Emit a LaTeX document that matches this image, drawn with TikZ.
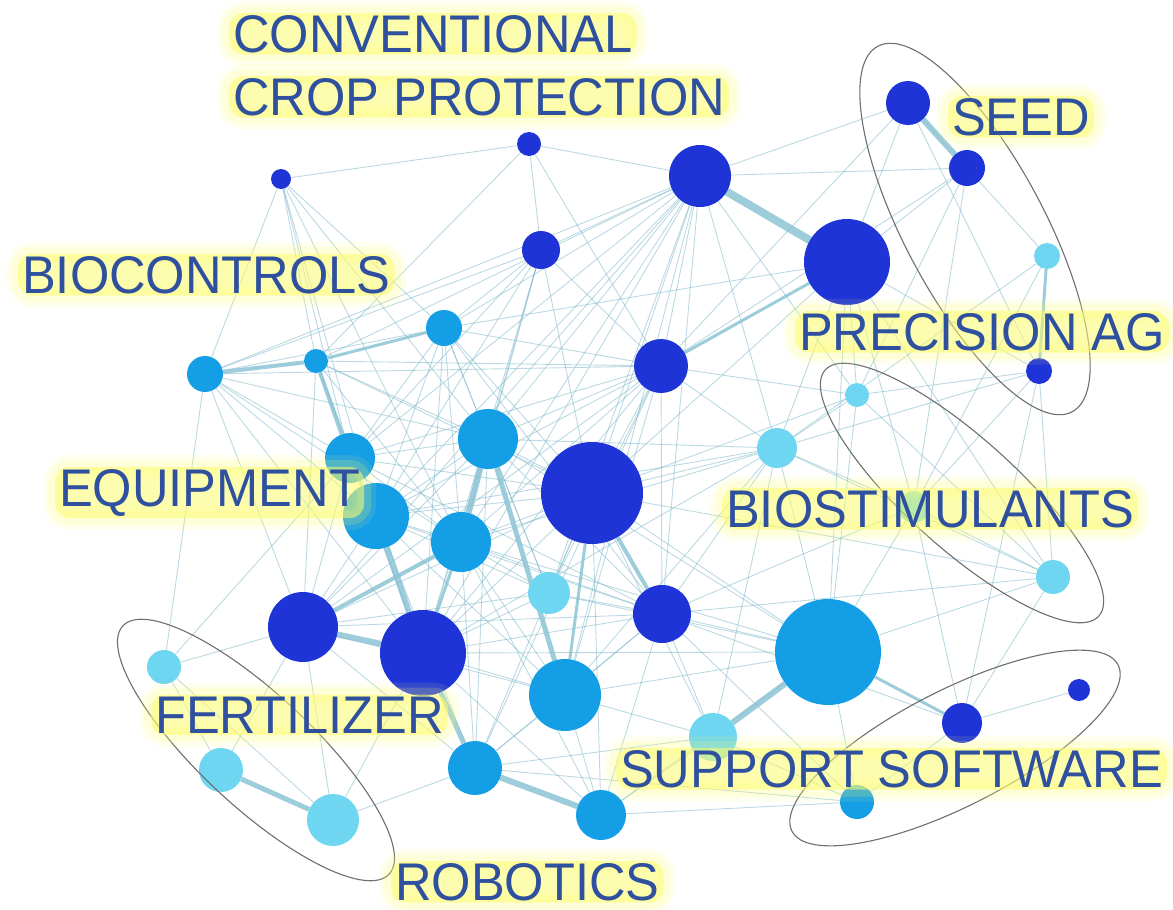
\documentclass[tikz,border=0pt]{standalone}
\usepackage{fontspec}
\newfontfamily\labfont{Liberation Sans}[FakeStretch=0.955]
\usetikzlibrary{backgrounds}
\definecolor{cD}{RGB}{30,52,215}
\definecolor{cM}{RGB}{20,158,230}
\definecolor{cL}{RGB}{110,214,240}
\definecolor{labC}{RGB}{46,80,158}
\definecolor{glowC}{RGB}{252,252,110}
\definecolor{edgeC}{RGB}{120,180,200}
\definecolor{thickC}{RGB}{140,195,212}
\definecolor{ringC}{RGB}{110,110,110}
\tikzset{
  nd/.style={circle, inner sep=0pt, draw=none},
  edge/.style={draw=edgeC, line width=0.9pt, draw opacity=0.5},
  thickedge/.style={draw=thickC, draw opacity=0.85},
  ring/.style={draw=ringC, line width=1.1pt},
  lab/.style={font={\labfont\fontsize{53}{60}\selectfont}, text=labC,
    inner xsep=4pt, inner ysep=2pt, rounded corners=14pt,
    fill=glowC, fill opacity=0.55, text opacity=1,
    preaction={draw=glowC, line width=24pt, draw opacity=0.10},
    preaction={draw=glowC, line width=14pt, draw opacity=0.18},
    anchor=base west}
}
\begin{document}
\begin{tikzpicture}[x=1pt,y=-1pt]
\useasboundingbox (0,0) rectangle (1173,910);
% nodes
\foreach \i/\x/\y/\r/\c in {
 1/281/179/10/D, 2/529/144/12/D, 3/700/176/31/D, 4/908/103/22/D, 5/967/168/18/D,
 6/847/262/43/D, 7/1047/256/13/L, 8/1039/371/13/D, 9/541/250/19/D, 10/444/328/18/M,
 11/316/361/12/M, 12/205/374/18/M, 13/661/366/27/D, 14/857/395/12/L, 15/777/448/20/L,
 16/488/439/30/M, 17/350/458/25/M, 18/592/493/51/D, 19/376/516/33/M, 20/461/542/30/M,
 21/549/593/21/L, 22/662/614/29/D, 23/303/627/35/D, 24/423/653/43/D, 25/828/652/53/M,
 26/565/695/36/M, 27/164/667/17/L, 28/1079/690/11/D, 29/962/723/20/D, 30/713/737/24/L,
 31/475/768/27/M, 32/221/770/22/L, 33/333/820/26/L, 34/601/815/25/M, 35/857/802/17/M,
 36/1053/577/17/L, 37/914/507/16/L}
 \node[nd, minimum size={2*\r pt}, fill=c\c] (n\i) at (\x,\y) {};
% edges
\begin{pgfonlayer}{background}
\foreach \a/\b in {
1/2, 1/12, 1/11, 1/17, 1/19, 1/10, 1/20, 1/16,
2/3, 2/9, 2/11, 2/13,
3/4, 3/5, 3/9, 3/10, 3/11, 3/12, 3/16, 3/17, 3/19, 3/20, 3/23, 3/24, 3/13, 3/18, 3/21, 3/22, 3/26, 3/15, 3/14,
4/6, 4/8, 4/13, 4/7,
5/6, 5/13, 5/37, 5/14,
6/18, 6/15, 6/14, 6/8, 6/37, 6/10, 6/36, 6/25,
7/37, 7/15,
8/15, 8/14, 8/37, 8/36, 8/29,
9/12, 9/10, 9/16, 9/13, 9/17, 9/19, 9/18, 9/20, 9/24,
10/12, 10/16, 10/17, 10/19, 10/20, 10/18, 10/13, 10/21, 10/24, 10/22,
11/19, 11/20, 11/16, 11/18, 11/23, 11/24, 11/13,
12/17, 12/19, 12/23, 12/27, 12/24, 12/16, 12/13, 12/20,
13/16, 13/17, 13/19, 13/20, 13/23, 13/24, 13/18, 13/21, 13/22, 13/26, 13/15, 13/14, 13/31,
14/15, 14/25, 14/18, 14/36,
15/18, 15/25, 15/36, 15/37, 15/22, 15/26, 15/24, 15/20, 15/19, 15/16, 15/30,
16/17, 16/19, 16/18, 16/23, 16/24, 16/22, 16/21, 16/25, 16/31,
17/19, 17/20, 17/23, 17/24, 17/27, 17/18, 17/22,
18/19, 18/20, 18/25, 18/21, 18/24, 18/23, 18/30, 18/34, 18/36, 18/31,
19/23, 19/20, 19/26, 19/31, 19/22, 19/21,
20/26, 20/21, 20/22, 20/31, 20/34, 20/25,
21/24, 21/23, 21/22, 21/25,
22/25, 22/26, 22/30, 22/34, 22/36, 22/37, 22/24, 22/23, 22/31, 22/35,
23/27, 23/32, 23/31, 23/26, 23/33,
24/26, 24/33, 24/34, 24/25,
25/36, 25/37, 25/26, 25/35, 25/34,
26/31, 26/34, 26/30,
27/33, 27/32,
28/29,
29/35, 29/36, 29/37, 29/22,
30/35, 30/34, 30/31,
31/33, 31/35,
34/35, 36/37}
 \draw[edge] (n\a) -- (n\b);
\foreach \a/\b/\w in {
3/6/8, 4/5/6, 7/8/3, 12/11/4, 11/10/3, 11/17/4, 16/20/6, 16/26/5, 19/24/6,
23/24/6, 24/31/5, 31/34/6, 30/25/6, 32/33/5, 18/22/4, 13/6/3, 25/29/3,
20/23/4, 18/26/3, 24/20/3}
 \draw[thickedge, line width=\w pt] (n\a) -- (n\b);
\end{pgfonlayer}
% group outlines
\draw[ring, rotate around={-62:(975,229)}] (975,229) ellipse [x radius=207, y radius=70];
\draw[ring, rotate around={-42:(962,493)}] (962,493) ellipse [x radius=184, y radius=55];
\draw[ring, rotate around={27:(955,748)}] (955,748) ellipse [x radius=183, y radius=58];
\draw[ring, rotate around={-43:(256,750)}] (256,750) ellipse [x radius=182, y radius=56];
% labels
\node[lab] (cpt1) at (229,52) {CONVENTIONAL};
\node[lab] (cpt2) at (229,115) {CROP PROTECTION};
\node[lab] (bioc) at (18,293) {BIOCONTROLS};
\node[lab] (seed) at (948,135) {SEED};
\node[lab] (prec) at (795,350) {PRECISION AG};
\node[lab] (equip) at (55,506) {EQUIPMENT};
\node[lab] (biost) at (722,527) {BIOSTIMULANTS};
\node[lab] (fert) at (151,733) {FERTILIZER};
\node[lab] (supp) at (616,787) {SUPPORT SOFTWARE};
\node[lab] (robo) at (391,900) {ROBOTICS};
\end{tikzpicture}
\end{document}
